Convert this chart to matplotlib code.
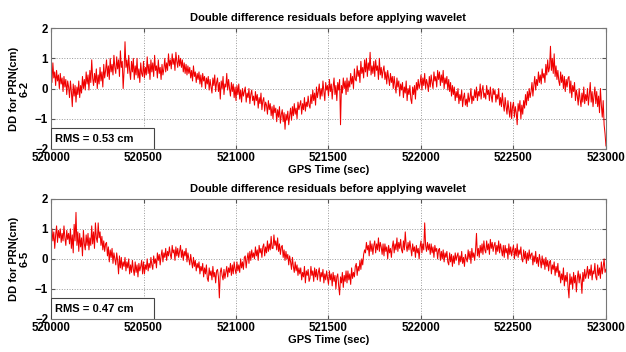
import numpy as np
import matplotlib
matplotlib.use("Agg")
import matplotlib.pyplot as plt
from matplotlib.patches import Rectangle

plt.rcParams["font.family"] = ["Liberation Sans", "DejaVu Sans"]
plt.rcParams["font.weight"] = "bold"

# GPS time grid (5 s sampling)
t_start = 520000
t_end = 523000
t_step = 5

# double difference residuals, PRN 6-2 (cm), one row = 50 s
dd_6_2 = [
    0.6, 0.2, 0.85, 0.35, 0.55, 0.1, 0.6, 0.25, 0.45, 0.0,
    0.5, 0.15, 0.35, -0.1, 0.4, 0.05, 0.3, -0.2, 0.25, 0.05,
    -0.3, 0.25, -0.1, -0.6, 0.15, -0.25, 0.1, -0.45, 0.05, -0.2,
    0.25, -0.3, 0.1, -0.15, 0.4, 0.0, 0.3, -0.05, 0.55, 0.15,
    0.45, -0.05, 0.6, 0.2, 0.95, 0.35, 0.1, 0.5, 0.2, 0.65,
    0.0, 0.45, 0.15, 0.7, 0.25, 0.55, 0.05, 0.8, 0.35, 0.6,
    0.95, 0.4, 0.75, 0.3, 1.0, 0.55, 0.8, 0.45, 1.1, 0.7,
    0.5, 1.05, 0.65, 0.95, 0.4, 1.25, 0.7, 0.9, 0.0, 0.6,
    1.55, 0.7, 0.95, 0.5, 1.1, 0.6, 0.3, 0.9, 0.55, 1.0,
    0.3, 0.75, 0.45, 1.0, 0.35, 0.65, 0.2, 0.85, 0.5, 0.4,
    0.9, 0.35, 0.7, 0.45, 1.05, 0.5, 0.8, 0.3, 0.95, 0.55,
    0.85, 0.4, 1.1, 0.6, 0.75, 0.35, 0.95, 0.5, 0.7, 0.3,
    0.8, 0.45, 0.65, 1.0, 0.55, 0.85, 0.6, 1.15, 0.75, 0.95,
    0.65, 1.15, 0.8, 1.0, 0.6, 1.2, 0.9, 0.7, 1.1, 0.75,
    1.0, 0.7, 0.95, 0.55, 0.85, 0.5, 0.8, 0.45, 0.75, 0.5,
    0.7, 0.35, 0.6, 0.25, 0.75, 0.4, 0.55, 0.2, 0.5, 0.3,
    0.55, 0.15, 0.45, 0.05, 0.5, 0.25, 0.4, 0.0, 0.35, 0.15,
    0.4, -0.05, 0.3, 0.05, -0.15, 0.35, 0.1, 0.45, -0.1, 0.2,
    0.35, -0.1, 0.2, -0.35, 0.25, 0.0, 0.4, -0.2, 0.15, 0.05,
    0.5, -0.05, 0.3, 0.0, -0.25, 0.2, -0.1, 0.15, -0.3, 0.05,
    -0.4, 0.1, -0.2, 0.15, -0.35, -0.05, -0.45, 0.0, -0.25, -0.1,
    0.05, -0.45, -0.15, -0.3, 0.0, -0.5, -0.2, -0.05, -0.4, -0.25,
    -0.55, -0.1, -0.4, -0.2, -0.65, -0.3, -0.5, -0.15, -0.7, -0.4,
    -0.3, -0.75, -0.45, -0.55, -0.85, -0.4, -0.7, -0.5, -0.9, -0.6,
    -1.0, -0.55, -0.8, -0.65, -1.1, -0.7, -0.95, -0.6, -1.15, -0.85,
    -0.7, -1.1, -0.8, -1.35, -0.85, -1.05, -0.75, -1.2, -0.9, -0.65,
    -1.05, -0.6, -0.9, -0.5, -0.85, -0.65, -1.0, -0.45, -0.7, -0.55,
    -0.4, -0.85, -0.5, -0.7, -0.3, -0.75, -0.45, -0.6, -0.25, -0.55,
    -0.65, -0.2, -0.5, -0.05, -0.4, -0.15, -0.55, 0.05, -0.3, -0.1,
    0.15, -0.35, 0.0, -0.25, 0.25, -0.1, -0.4, 0.2, -0.05, 0.1,
    -0.25, 0.3, -0.1, 0.15, -0.35, 0.05, 0.35, -0.2, 0.1, -0.4,
    0.2, -0.05, 0.3, -1.2, 0.1, -0.15, 0.35, 0.0, 0.25, -0.2,
    0.35, -0.1, 0.25, 0.05, 0.5, 0.15, 0.4, 0.0, 0.65, 0.3,
    0.25, 0.75, 0.4, 0.6, 0.2, 0.9, 0.5, 0.7, 0.35, 0.95,
    0.55, 1.0, 0.4, 0.85, 0.6, 1.2, 0.45, 0.75, 0.5, 0.9,
    0.4, 0.95, 0.6, 0.75, 0.3, 1.0, 0.45, 0.7, 0.35, 0.6,
    0.75, 0.3, 0.55, 0.15, 0.6, 0.35, 0.1, 0.5, 0.2, 0.4,
    0.0, 0.4, 0.1, -0.15, 0.35, 0.05, 0.25, -0.25, 0.15, -0.05,
    0.2, -0.3, 0.05, -0.15, 0.25, -0.4, 0.0, -0.2, 0.1, -0.35,
    -0.5, 0.05, -0.2, 0.1, -0.35, 0.2, -0.05, 0.3, 0.0, 0.15,
    0.45, -0.05, 0.35, 0.1, 0.5, 0.0, 0.3, 0.15, -0.1, 0.4,
    0.05, 0.45, 0.2, 0.0, 0.55, 0.25, 0.4, 0.05, 0.6, 0.3,
    0.55, 0.1, 0.45, 0.2, 0.6, 0.0, 0.35, 0.15, 0.4, -0.05,
    0.3, -0.1, 0.2, -0.25, 0.1, -0.2, 0.05, -0.4, -0.1, -0.3,
    0.0, -0.5, -0.2, -0.4, -0.05, -0.6, -0.3, -0.15, -0.55, -0.35,
    -0.6, -0.15, -0.45, -0.3, 0.0, -0.5, -0.25, -0.4, -0.05, -0.3,
    0.05, -0.4, -0.1, -0.25, 0.15, -0.35, -0.05, 0.1, -0.3, -0.15,
    -0.35, 0.1, -0.2, -0.05, -0.4, 0.05, -0.25, -0.45, 0.0, -0.2,
    -0.05, -0.45, -0.2, -0.35, 0.0, -0.55, -0.3, -0.6, -0.15, -0.5,
    -0.75, -0.3, -0.6, -0.85, -0.4, -0.7, -0.95, -0.45, -1.0, -0.6,
    -0.45, -0.95, -0.6, -0.8, -1.2, -0.5, -0.75, -0.4, -1.0, -0.55,
    -0.85, -0.4, -0.65, -0.2, -0.55, -0.1, -0.4, 0.0, -0.3, -0.1,
    0.2, -0.25, 0.1, 0.4, -0.05, 0.3, 0.1, 0.55, 0.2, 0.45,
    0.15, 0.65, 0.35, 0.5, 0.2, 0.8, 0.45, 0.95, 0.55, 0.7,
    1.4, 0.6, 1.0, 0.5, 1.15, 0.4, 0.75, 0.3, 0.6, 0.25,
    0.1, 0.55, 0.2, 0.45, 0.0, 0.4, -0.1, 0.3, 0.05, 0.35,
    0.4, -0.15, 0.25, -0.3, 0.1, -0.1, 0.2, -0.4, -0.05, -0.25,
    -0.55, 0.0, -0.35, -0.6, -0.15, -0.45, 0.05, -0.5, -0.2, -0.4,
    0.0, -0.55, -0.2, 0.2, -0.45, -0.1, -0.6, -0.25, 0.05, -0.5,
    -0.1, -0.6, -0.25, -0.8, 0.0, -0.55, -0.95, -0.4, -1.2, -1.5,
    -1.9,
]

# double difference residuals, PRN 6-5 (cm), one row = 50 s
dd_6_5 = [
    0.45, 1.0, 0.6, 0.9, 0.35, 0.8, 1.1, 0.55, 0.95, 0.7,
    1.0, 0.55, 0.85, 0.6, 1.1, 0.7, 0.45, 0.95, 0.65, 0.85,
    0.5, 1.0, 0.35, 0.8, 0.2, 1.15, 0.6, 1.55, 0.45, 0.9,
    0.25, 0.85, 0.4, 0.7, 0.1, 0.95, 0.5, 0.3, 0.8, 0.45,
    0.85, 0.3, 0.7, 0.45, 1.1, 0.5, 0.9, 0.35, 1.2, 0.7,
    0.55, 1.2, 0.7, 0.9, 0.45, 0.75, 0.3, 0.6, 0.25, 0.5,
    0.55, 0.1, 0.4, -0.1, 0.3, 0.05, 0.35, -0.15, 0.2, 0.0,
    -0.2, 0.2, -0.05, -0.5, 0.1, -0.3, 0.05, -0.35, -0.1, -0.25,
    0.05, -0.4, -0.1, -0.3, 0.0, -0.5, -0.2, -0.45, -0.05, -0.35,
    -0.55, -0.1, -0.45, -0.2, -0.6, -0.15, -0.4, -0.25, -0.05, -0.5,
    -0.1, -0.5, -0.2, -0.35, 0.0, -0.4, -0.15, -0.3, 0.05, -0.2,
    -0.35, 0.1, -0.15, 0.0, -0.3, 0.2, -0.05, 0.15, -0.2, 0.1,
    0.3, -0.1, 0.2, 0.05, 0.35, -0.05, 0.25, 0.1, 0.4, 0.15,
    0.0, 0.45, 0.2, 0.3, -0.05, 0.4, 0.1, 0.35, 0.05, 0.25,
    0.45, 0.05, 0.3, -0.05, 0.25, 0.1, 0.35, -0.1, 0.2, 0.0,
    -0.2, 0.15, -0.1, -0.3, 0.05, -0.25, -0.05, -0.4, -0.15, -0.3,
    -0.1, -0.5, -0.25, -0.4, -0.15, -0.6, -0.3, -0.5, -0.2, -0.65,
    -0.75, -0.3, -0.55, -0.4, -0.7, -0.25, -0.6, -0.45, -0.8, -0.4,
    -0.35, -0.6, -1.3, -0.45, -0.3, -0.55, -0.7, -0.35, -0.65, -0.45,
    -0.25, -0.6, -0.3, -0.45, -0.15, -0.55, -0.2, -0.5, -0.1, -0.35,
    -0.5, -0.1, -0.4, -0.2, -0.45, 0.0, -0.3, -0.1, -0.35, 0.05,
    0.1, -0.3, 0.0, 0.2, -0.15, 0.25, -0.05, 0.3, 0.05, 0.2,
    0.0, 0.4, 0.1, 0.3, -0.05, 0.45, 0.2, 0.35, 0.05, 0.4,
    0.5, 0.1, 0.4, 0.2, 0.6, 0.25, 0.5, 0.3, 0.75, 0.35,
    0.35, 0.8, 0.45, 0.6, 0.3, 0.7, 0.25, 0.5, 0.15, 0.4,
    0.45, 0.05, 0.3, -0.05, 0.25, 0.0, 0.15, -0.2, 0.1, -0.1,
    -0.35, 0.05, -0.25, -0.45, -0.1, -0.4, -0.2, -0.55, -0.3, -0.5,
    -0.3, -0.7, -0.45, -0.6, -0.25, -0.8, -0.4, -0.55, -0.35, -0.75,
    -0.65, -0.25, -0.55, -0.4, -0.75, -0.3, -0.6, -0.35, -0.7, -0.45,
    -0.3, -0.75, -0.45, -0.6, -0.35, -0.8, -0.5, -0.7, -0.4, -0.65,
    -0.85, -0.4, -0.7, -0.5, -0.9, -0.45, -0.75, -0.55, -1.0, -0.6,
    -0.5, -0.9, -1.2, -0.6, -0.8, -0.45, -0.95, -0.55, -0.75, -0.4,
    -0.8, -0.4, -0.7, -0.5, -0.85, -0.3, -0.65, -0.45, -0.6, -0.25,
    -0.15, -0.55, -0.25, -0.4, -0.05, -0.35, 0.0, -0.2, 0.15, 0.3,
    0.2, 0.55, 0.3, 0.45, 0.1, 0.6, 0.25, 0.5, 0.15, 0.45,
    0.6, 0.2, 0.5, 0.3, 0.7, 0.25, 0.55, 0.4, 0.15, 0.5,
    0.1, 0.5, 0.25, 0.4, 0.0, 0.45, 0.2, 0.35, 0.05, 0.4,
    0.6, 0.2, 0.5, 0.3, 0.7, 0.25, 0.55, 0.35, 0.65, 0.3,
    0.2, 0.6, 0.3, 0.9, 0.45, 0.25, 0.55, 0.3, 0.6, 0.35,
    0.1, 0.5, 0.25, 0.4, 0.05, 0.45, 0.2, 0.35, 0.0, 0.4,
    0.6, 0.2, 0.5, 0.3, 1.2, 0.45, 0.25, 0.55, 0.3, 0.5,
    0.15, 0.5, 0.2, 0.4, 0.05, 0.45, 0.25, 0.35, 0.0, 0.3,
    0.35, -0.05, 0.25, 0.0, 0.3, -0.1, 0.2, 0.05, 0.25, -0.1,
    -0.2, 0.2, -0.1, 0.15, -0.25, 0.1, -0.15, 0.2, -0.05, 0.1,
    0.2, -0.2, 0.1, -0.1, 0.25, -0.15, 0.05, -0.25, 0.15, 0.0,
    -0.1, 0.3, 0.0, 0.25, -0.15, 0.35, 0.05, 0.2, -0.05, 0.3,
    0.85, 0.1, 0.35, 0.05, 0.45, 0.2, 0.5, 0.15, 0.6, 0.3,
    0.2, 0.6, 0.3, 0.5, 0.15, 0.65, 0.35, 0.55, 0.25, 0.45,
    0.55, 0.15, 0.45, 0.25, 0.6, 0.2, 0.5, 0.3, 0.1, 0.45,
    0.05, 0.45, 0.2, 0.35, 0.0, 0.5, 0.15, 0.4, 0.1, 0.3,
    0.45, 0.0, 0.35, 0.1, 0.5, 0.05, 0.3, 0.15, 0.4, 0.0,
    -0.1, 0.3, 0.0, 0.25, -0.15, 0.2, -0.05, 0.3, 0.0, 0.15,
    0.2, -0.2, 0.1, -0.1, 0.25, -0.15, 0.05, -0.25, 0.15, -0.05,
    -0.3, 0.1, -0.2, 0.0, -0.35, 0.05, -0.25, -0.05, -0.4, -0.1,
    -0.05, -0.5, -0.2, -0.35, -0.1, -0.55, -0.25, -0.45, -0.15, -0.6,
    -0.4, -0.8, -0.5, -0.7, -0.3, -0.9, -0.55, -0.75, -0.45, -0.95,
    -1.3, -0.5, -0.85, -0.6, -1.0, -0.45, -0.8, -0.55, -1.1, -0.65,
    -0.4, -0.8, -0.5, -0.7, -1.15, -0.45, -0.75, -0.35, -0.65, -0.5,
    -0.25, -0.65, -0.35, -0.55, -0.2, -0.7, -0.4, -0.5, -0.15, -0.6,
    -0.7, -0.2, -0.55, -0.3, -0.65, -0.1, -0.5, -0.25, 0.0, -0.45,
    -0.35,
]

series = [("6-2", dd_6_2, "RMS = 0.53 cm"), ("6-5", dd_6_5, "RMS = 0.47 cm")]
x_ticks = [520000, 520500, 521000, 521500, 522000, 522500, 523000]
y_ticks = [-2, -1, 0, 1, 2]
title = "Double difference residuals before applying wavelet"

t = np.arange(t_start, t_end + 1, t_step)

fig = plt.figure(figsize=(6.26, 3.52), dpi=100)
axes_pos = [[0.0815, 0.577, 0.8865, 0.343], [0.0815, 0.094, 0.8865, 0.341]]

for pos, (pair, values, rms) in zip(axes_pos, series):
    ax = fig.add_axes(pos)
    ax.plot(t, values, color="#f00000", linewidth=0.75)
    ax.set_xlim(t_start, t_end)
    ax.set_ylim(-2, 2)
    ax.set_xticks(x_ticks)
    ax.set_yticks(y_ticks)
    ax.tick_params(direction="in", length=3, labelsize=8.3, top=True, right=True,
                   color="#555555", pad=2)
    for lbl in ax.get_xticklabels() + ax.get_yticklabels():
        lbl.set_fontweight("bold")
    ax.grid(True, linestyle=":", color="#999999", linewidth=0.7)
    for sp in ax.spines.values():
        sp.set_color("#777777")
    ax.set_title(title, fontsize=8, fontweight="bold", pad=5)
    ax.set_xlabel("GPS Time (sec)", fontsize=8, fontweight="bold", labelpad=1)
    ax.set_ylabel("DD for PRN(cm)\n" + pair, fontsize=8, fontweight="bold",
                  labelpad=4, linespacing=1.1)
    ax.add_patch(Rectangle((0, 0), 0.186, 0.175, transform=ax.transAxes,
                           facecolor="white", edgecolor="#444444", linewidth=0.8, zorder=5))
    ax.text(0.008, 0.085, rms, transform=ax.transAxes, fontsize=8, fontweight="bold",
            va="center", ha="left", zorder=6)

fig.savefig("out.png", dpi=100)
